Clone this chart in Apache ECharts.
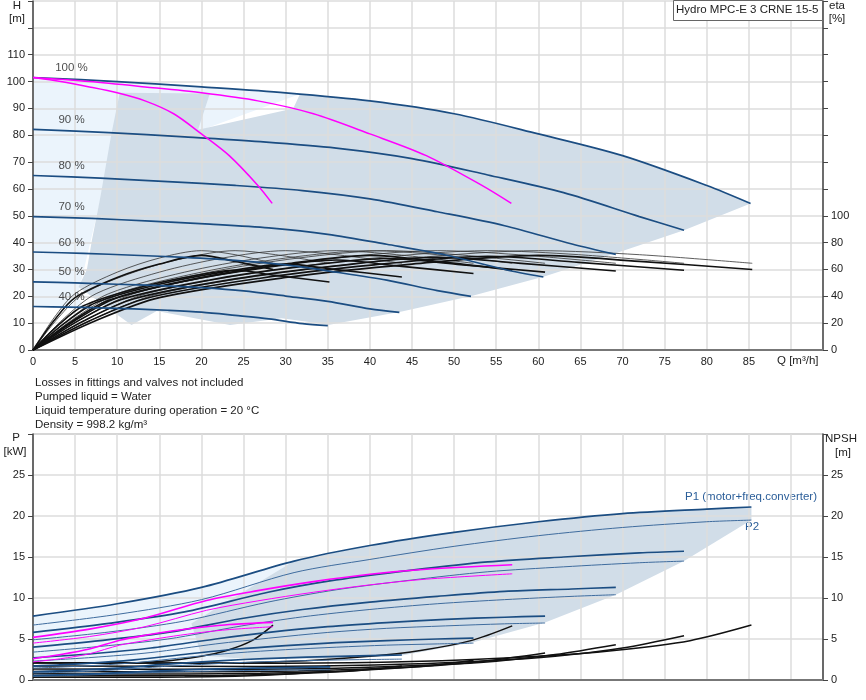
<!DOCTYPE html>
<html>
<head>
<meta charset="utf-8">
<script src="https://cdn.jsdelivr.net/npm/echarts@6/dist/echarts.min.js"></script>
<style>html,body{margin:0;background:#fff}#chart{width:866px;height:700px}</style>
</head>
<body>
<div id="chart"></div>
<script>
// Hydro MPC-E 3 CRNE 15-5 performance sheet: H/eta (top) and P/NPSH (bottom) vs Q.
const FONT = "'Liberation Sans', Arial, sans-serif";
const BLUE = "#1b4d82", BLUE2 = "#3f6c9e", MAG = "#ff00ff", BLK = "#111";

const SPEEDS = ["100 %", "90 %", "80 %", "70 %", "60 %", "50 %", "40 %"];

// head curves, 3 pumps, one per speed
const H_3P = [
  [[0,101.5],[10,100],[20,98],[30,95.8],[40,92.8],[50,88],[60,80.5],[70,72.4],[80,61.3],[85.2,54.6]],
  [[0,82.2],[9,81],[18,79.4],[27,77.6],[36,75.2],[45,71.3],[54,65.2],[63,58.6],[72,49.7],[77.3,44.6]],
  [[0,65],[8,64],[16,62.7],[24,61.3],[32,59.4],[40,56.3],[48,51.5],[56,46.3],[64,39.5],[69.2,35.6]],
  [[0,49.7],[7,49],[14,48],[21,46.9],[28,45.5],[35,43.1],[42,39.4],[49,35.4],[56,30],[60.6,27.2]],
  [[0,36.5],[6,36],[12,35.3],[18,34.5],[24,33.4],[30,31.7],[36,29],[42,26],[48,22.1],[52,20]],
  [[0,25.4],[5,25],[10,24.5],[15,24],[20,23.2],[25,22],[30,20.1],[35,18.1],[40,15.3],[43.5,14]],
  [[0,16.2],[4,16],[8,15.7],[12,15.3],[16,14.8],[20,14.1],[24,12.9],[28,11.6],[32,9.8],[35,9.1]],
];
// head at 100 %, 1 and 2 pumps (magenta)
const H_1P = [[0,101.5],[3.3,100],[6.7,98],[10,95.8],[13.3,92.8],[16.7,88],[20,80.5],[23.3,72.4],[26.7,61.3],[28.4,54.6]];
const H_2P = [[0,101.5],[6.7,100],[13.3,98],[20,95.8],[26.7,92.8],[33.3,88],[40,80.5],[46.7,72.4],[53.3,61.3],[56.8,54.6]];

// efficiency curves [%], total (thick) and pump (thin)
const ETA_TOT = [
  [[0,0],[7.5,22],[15,39],[30,54],[45,64],[60,70.5],[72,66],[85.4,60]],
  [[0,0],[6.75,21.8],[13.5,38.6],[27,53.5],[40.5,63.4],[54,69.8],[64.8,65.3],[77.3,59.4]],
  [[0,0],[6,21.6],[12,38.2],[24,53],[36,62.7],[48,69.1],[57.6,64.7],[69.2,58.8]],
  [[0,0],[5.25,21.3],[10.5,37.7],[21,52.2],[31.5,61.9],[42,68.2],[50.4,63.8],[60.8,58]],
  [[0,0],[4.5,20.9],[9,37],[18,51.3],[27,60.8],[36,67],[43.2,62.7],[52.3,57]],
  [[0,0],[3.75,20],[7.5,35.4],[15,49],[22.5,58],[30,64],[36,59.9],[43.8,54.4]],
  [[0,0],[3,18.5],[6,32.9],[12,45.5],[18,54],[24,59.4],[28.8,55.6],[35.2,50.6]],
  [[0,0],[2.5,22],[5,39],[10,54],[15,64],[20,70.5],[24,66],[28.5,60]],
  [[0,0],[5,22],[10,39],[20,54],[30,64],[40,70.5],[48,66],[56.9,59.4]],
];
const ETA_PUMP = [
  [[0,0],[7.5,24],[15,42],[30,58],[45,68.5],[60,74],[72,71],[85.4,64.6]],
  [[0,0],[6.75,24],[13.5,42],[27,58],[40.5,68.5],[54,74],[64.8,71],[77.3,64.6]],
  [[0,0],[6,24],[12,42],[24,58],[36,68.5],[48,74],[57.6,71],[69.2,64.6]],
  [[0,0],[5.25,24],[10.5,42],[21,58],[31.5,68.5],[42,74],[50.4,71],[60.8,64.6]],
  [[0,0],[4.5,24],[9,42],[18,58],[27,68.5],[36,74],[43.2,71],[52.3,64.6]],
  [[0,0],[3.75,24],[7.5,42],[15,58],[22.5,68.5],[30,74],[36,71],[43.8,64.6]],
  [[0,0],[3,24],[6,42],[12,58],[18,68.5],[24,74],[28.8,71],[35.2,64.6]],
  [[0,0],[2.5,24],[5,42],[10,58],[15,68.5],[20,74],[24,71],[28.5,64.6]],
  [[0,0],[5,24],[10,42],[20,58],[30,68.5],[40,74],[48,71],[56.9,64.6]],
];

// power, 3 pumps per speed [kW]
const P1_3P = [
  [[0,7.8],[10,9.3],[20,11.3],[31,14.5],[40,16.4],[50,18.0],[60,19.3],[70,20.3],[80,20.85],[85.3,21.1]],
  [[0,5.8],[9,6.9],[18,8.3],[27.9,10.7],[36,12.2],[45,13.4],[54,14.4],[63,15.0],[72,15.5],[77.3,15.7]],
  [[0,4.0],[8,4.8],[16,5.8],[24.8,7.5],[32,8.6],[40,9.5],[48,10.2],[56,10.8],[64,11.1],[69.2,11.3]],
  [[0,2.7],[7,3.2],[14,3.9],[21.7,5.0],[28,5.8],[35,6.5],[42,7.0],[49,7.4],[56,7.65],[60.8,7.8]],
  [[0,1.7],[6,2.0],[12,2.45],[18.6,3.2],[24,3.75],[30,4.2],[36,4.55],[42,4.8],[48,5.0],[52.3,5.1]],
  [[0,1.0],[5,1.2],[10,1.45],[15.5,1.9],[20,2.2],[25,2.5],[30,2.7],[35,2.85],[40,2.97],[43.8,3.05]],
  [[0,0.55],[4,0.65],[8,0.78],[12.4,1.0],[16,1.15],[20,1.3],[24,1.4],[28,1.48],[32,1.55],[35.3,1.6]],
];
const P2_3P = [
  [[0,6.7],[10,8.0],[20,9.8],[31,13.1],[40,14.7],[50,16.3],[60,17.6],[70,18.6],[80,19.3],[85.3,19.5]],
  [[0,4.9],[9,5.85],[18,7.2],[27.9,9.5],[36,11.0],[45,12.2],[54,13.2],[63,13.8],[72,14.3],[77.3,14.5]],
  [[0,3.4],[8,4.1],[16,5.0],[24.8,6.6],[32,7.7],[40,8.6],[48,9.3],[56,9.8],[64,10.2],[69.2,10.4]],
  [[0,2.3],[7,2.75],[14,3.35],[21.7,4.4],[28,5.1],[35,5.8],[42,6.3],[49,6.6],[56,6.85],[60.8,6.95]],
  [[0,1.45],[6,1.7],[12,2.1],[18.6,2.8],[24,3.3],[30,3.7],[36,4.0],[42,4.25],[48,4.4],[52.3,4.5]],
  [[0,0.85],[5,1.0],[10,1.25],[15.5,1.65],[20,1.9],[25,2.15],[30,2.3],[35,2.42],[40,2.5],[43.8,2.55]],
  [[0,0.45],[4,0.55],[8,0.67],[12.4,0.85],[16,0.97],[20,1.07],[24,1.14],[28,1.19],[32,1.23],[35.3,1.25]],
];
// power at 100 %, 1 and 2 pumps (magenta)
const P1_1P = [[0,2.6],[3.3,3.1],[6.7,3.77],[10.3,4.85],[13.3,5.45],[16.7,6.0],[20,6.43],[23.3,6.77],[28.5,7.03]];
const P2_1P = [[0,2.2],[3.3,2.6],[6.7,3.2],[10.3,4.25],[13.3,4.8],[16.7,5.35],[20,5.8],[23.3,6.15],[28.5,6.5]];
const P1_2P = [[0,5.2],[6.7,6.2],[13.3,7.55],[20.6,9.7],[26.7,10.9],[33.3,12.0],[40,12.9],[46.7,13.5],[56.9,14.05]];
const P2_2P = [[0,4.5],[6.7,5.3],[13.3,6.5],[20.6,8.5],[26.7,9.65],[33.3,10.7],[40,11.6],[46.7,12.3],[56.9,12.95]];

// NPSH [m]
const NPSH = [
  [[0,2.1],[10,2.05],[15,2.25],[20,2.9],[23,3.6],[26,4.8],[28.5,6.7]],
  [[0,2.1],[20,2.05],[30,2.25],[40,2.9],[46,3.6],[52,4.8],[56.9,6.6]],
  [[0,2.1],[30,2.05],[45,2.25],[60,2.9],[69,3.6],[78,4.8],[85.3,6.7]],
  [[0,1.7],[27,1.66],[40.5,1.82],[54,2.35],[62,2.9],[70,3.9],[77.3,5.4]],
  [[0,1.34],[24,1.31],[36,1.44],[48,1.86],[55,2.3],[62,3.1],[69.2,4.3]],
  [[0,1.03],[21,1.0],[31.5,1.1],[42,1.42],[48,1.76],[54,2.35],[60.8,3.3]],
  [[0,0.76],[18,0.74],[27,0.81],[36,1.04],[41,1.3],[47,1.73],[52.3,2.4]],
  [[0,0.53],[15,0.51],[22.5,0.56],[30,0.72],[34.5,0.9],[39,1.2],[43.8,1.7]],
  [[0,0.34],[12,0.33],[18,0.36],[24,0.46],[27.6,0.58],[31,0.77],[35.3,1.1]],
];

// operating-range shading
const TOP_LIGHT = [[0,16.2],[0,101.5],[10,100],[20,98],[30,95.8],[31.7,95.4],[19.6,81.5],[8,56],[5.3,20],[6,15.9]];
const TOP_DARK = [[10.3,95.8],[21,95.5],[19.6,82],[30.9,90],[31.7,95.4],[40,92.8],[50,88],[60,80.5],[70,72.4],[80,61.3],[85.2,54.6],
  [77.3,44.6],[69.2,36],[60.8,27.5],[52.3,20.3],[43.8,14.3],[35.2,9.4],[29.5,11.8],[23.4,9.3],[14.7,14.5],
  [11.7,9.3],[5.4,23.5],[6.4,30],[7,41],[8,57],[9.3,80.4]];
const BOT_LIGHT = [[0,2.0],[0,7.8],[10,9.3],[20,11.3],[31,14.5],[24,2.6],[12,2.0]];
const BOT_DARK = [[18.8,6.9],[31,14.5],[40,16.4],[50,18.0],[60,19.3],[70,20.3],[80,20.85],[85.3,21.1],[85.3,19.5],
  [77.3,14.5],[69.2,10.4],[60.8,7.0],[52.3,4.6],[43.8,3.0],[35,2.6],[25,2.6],[20,3.0]];

const NOTES = ["Losses in fittings and valves not included", "Pumped liquid = Water",
  "Liquid temperature during operation = 20 °C", "Density = 998.2 kg/m³"];

function line(g, y, data, color, width) {
  return { type: "line", xAxisIndex: g, yAxisIndex: y, data, symbol: "none", smooth: 0.3, silent: true,
    lineStyle: { color, width }, z: 3 };
}
function poly(g, y, pts, fill) {
  return { type: "custom", xAxisIndex: g, yAxisIndex: y, data: [[0, 0]], silent: true, z: 1,
    renderItem: (p, api) => ({ type: "polygon", shape: { points: pts.map((q) => api.coord(q)) }, style: { fill } }) };
}

const series = [
  poly(0, 0, TOP_LIGHT, "#ebf4fc"), poly(0, 0, TOP_DARK, "#d1dde8"),
  poly(1, 2, BOT_LIGHT, "#ebf4fc"), poly(1, 2, BOT_DARK, "#d1dde8"),
];
ETA_PUMP.forEach((d) => series.push(line(0, 1, d, "#333", 0.8)));
ETA_TOT.forEach((d) => series.push(line(0, 1, d, BLK, 1.6)));
H_3P.forEach((d) => series.push(line(0, 0, d, BLUE, 1.7)));
series.push(line(0, 0, H_1P, MAG, 1.5), line(0, 0, H_2P, MAG, 1.5));
series.push({ type: "scatter", xAxisIndex: 0, yAxisIndex: 0, symbolSize: 1, silent: true, z: 5,
  itemStyle: { color: "transparent" },
  data: H_3P.map((d, i) => ({ value: d[0], name: SPEEDS[i] })),
  label: { show: true, formatter: "{b}", position: [39, -9], align: "center", verticalAlign: "middle",
    fontSize: 11.5, color: "#222", fontFamily: FONT } });
NPSH.forEach((d) => series.push(line(1, 3, d, BLK, 1.5)));
P2_3P.forEach((d) => series.push(line(1, 2, d, BLUE2, 1)));
P1_3P.forEach((d) => series.push(line(1, 2, d, BLUE, 1.7)));
series.push(line(1, 2, P2_1P, MAG, 1), line(1, 2, P1_1P, MAG, 1.6), line(1, 2, P2_2P, MAG, 1), line(1, 2, P1_2P, MAG, 1.6));

const lab = { fontSize: 11, color: "#222", fontFamily: FONT };
const split = { show: true, lineStyle: { color: "#dcdcdc", width: 1.5 } };
const xAx = (g, showLab) => ({ gridIndex: g, type: "value", min: 0, max: 93.8, interval: 5, z: 2,
  axisLine: { lineStyle: { color: "#777", width: 2 } }, axisTick: { show: false },
  axisLabel: { ...lab, show: showLab, margin: 6, formatter: (v) => (v <= 85 ? v : "") }, splitLine: split });
const yAx = (g, pos, max, iv, top, grid) => ({ gridIndex: g, type: "value", position: pos, min: 0, max, interval: iv, z: 2,
  axisLine: { show: true, lineStyle: { color: "#444", width: 1.5 } },
  axisTick: { show: true, length: 5, lineStyle: { color: "#444" } },
  axisLabel: { ...lab, margin: 8, formatter: (v) => (v <= top ? v : "") }, splitLine: grid ? split : { show: false } });

const tx = (text, x, y, extra) => ({ type: "text", x, y, silent: true,
  style: { text, font: "11.5px " + FONT, fill: "#222", textVerticalAlign: "middle", ...extra } });

const chart = echarts.init(document.getElementById("chart"));
chart.setOption({
  animation: false,
  grid: [
    { left: 33, top: 1, width: 790, height: 349 },
    { left: 33, top: 434, width: 790, height: 246, show: true, borderColor: "#888", borderWidth: 1 },
  ],
  xAxis: [xAx(0, true), xAx(1, false)],
  yAxis: [yAx(0, "left", 130, 10, 110, true), yAx(0, "right", 260, 20, 100, false),
    yAx(1, "left", 30, 5, 25, true), yAx(1, "right", 30, 5, 25, false)],
  series,
  graphic: [
    tx("H", 17, 6, { textAlign: "center" }), tx("[m]", 17, 19, { textAlign: "center" }),
    tx("eta", 837, 6, { textAlign: "center" }), tx("[%]", 837, 19, { textAlign: "center" }),
    tx("P", 16, 438, { textAlign: "center" }), tx("[kW]", 15, 452, { textAlign: "center" }),
    tx("NPSH", 841, 439, { textAlign: "center" }), tx("[m]", 843, 453, { textAlign: "center" }),
    { type: "rect", shape: { x: 673.5, y: 0.5, width: 149, height: 20 }, style: { fill: "#fff", stroke: "#666", lineWidth: 1 }, z: 10 },
    { ...tx("Hydro MPC-E 3 CRNE 15-5", 676, 10), z: 11 },
    tx("Q [m³/h]", 777, 361),
    ...NOTES.map((t, i) => tx(t, 35, 383 + i * 14)),
    tx("P1 (motor+freq.converter)", 685, 497, { fill: "#2b5e99" }),
    tx("P2", 745, 527, { fill: "#2b5e99" }),
  ],
});
</script>
</body>
</html>
